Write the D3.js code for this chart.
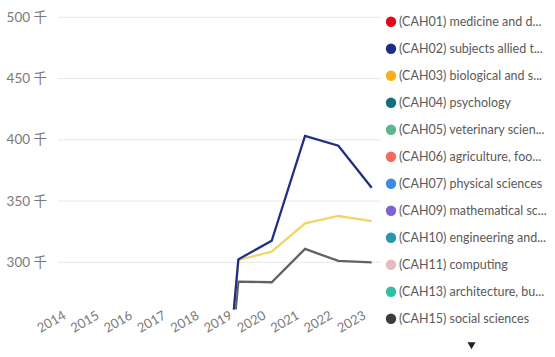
<!DOCTYPE html>
<html><head><meta charset="utf-8">
<script src="https://cdn.jsdelivr.net/npm/d3@7"></script>
<style>
html,body{margin:0;padding:0;background:#fff;}
svg{display:block;font-family:"Lato","Noto Sans CJK SC",sans-serif;}
</style></head>
<body><svg id="c" width="555" height="357"></svg>
<script>
const years = [2014, 2015, 2016, 2017, 2018, 2019, 2020, 2021, 2022, 2023];
const yTicks = [300, 350, 400, 450, 500];
// values in thousands; null = no data
const cah02 = [null, null, null, null, 0, 302.4, 317.6, 403.1, 395.2, 360.9];
const cah03 = [null, null, null, null, 0, 301.9, 308.7, 331.8, 337.8, 333.7];
const cah15 = [null, null, null, null, 0, 284.2, 283.7, 310.9, 301.1, 300.0];
const legendLabels = [
  "(CAH01) medicine and d...",
  "(CAH02) subjects allied t...",
  "(CAH03) biological and s...",
  "(CAH04) psychology",
  "(CAH05) veterinary scien...",
  "(CAH06) agriculture, foo...",
  "(CAH07) physical sciences",
  "(CAH09) mathematical sc...",
  "(CAH10) engineering and...",
  "(CAH11) computing",
  "(CAH13) architecture, bu...",
  "(CAH15) social sciences"
];
const legendColors = ["#e3061f","#1f2f86","#fbb01a","#11707a","#5cb88c","#f26b5c","#3a8fdc","#7f62d4","#2898ad","#e2bcc0","#2fbfa3","#3c3c3c"];
const lines = [
  {values: cah15, color: "#5d6466"},
  {values: cah03, color: "#f2d46c"},
  {values: cah02, color: "#1f2f86"}
];

const svg = d3.select("#c");
const x = d3.scaleLinear().domain([2014, 2023]).range([71.7, 371.7]);
const y = d3.scaleLinear().domain([300, 500]).range([262.3, 17.3]);

// gridlines + y labels
const gy = svg.append("g");
gy.selectAll("line").data(yTicks).join("line")
  .attr("x1", 58).attr("x2", 381)
  .attr("y1", d => y(d)).attr("y2", d => y(d))
  .attr("stroke", "#e8e8e8").attr("stroke-width", 1);
gy.selectAll("text").data(yTicks).join("text")
  .attr("x", 47).attr("y", d => y(d) + 4.5)
  .attr("text-anchor", "end").attr("fill", "#7a7a7a").attr("font-size", 13.5)
  .text(d => d + " 千");

// x labels
svg.append("g").selectAll("text").data(years).join("text")
  .attr("transform", d => `translate(${x(d) - 5},${318}) rotate(-30)`)
  .attr("text-anchor", "end").attr("fill", "#7a7a7a").attr("font-size", 13)
  .text(d => d);

// clip
svg.append("clipPath").attr("id", "clip").append("rect")
  .attr("x", 0).attr("y", 0).attr("width", 385).attr("height", 309.5);

const line = d3.line().defined(d => d.v !== null).x(d => x(d.yr)).y(d => y(d.v));
svg.append("g").attr("clip-path", "url(#clip)").selectAll("path").data(lines).join("path")
  .attr("d", s => line(years.map((yr, i) => ({yr, v: s.values[i]}))))
  .attr("fill", "none").attr("stroke", s => s.color).attr("stroke-width", 2.3)
  .attr("stroke-linejoin", "miter");

// legend
const lg = svg.append("g").selectAll("g").data(legendLabels).join("g")
  .attr("transform", (d, i) => `translate(391,${21.7 + i * 27.0})`);
lg.append("circle").attr("r", 5.2).attr("fill", (d, i) => legendColors[i]);
lg.append("text").attr("x", 8).attr("y", 4.6).attr("fill", "#5a5a5a").attr("font-size", 12.5)
  .text(d => d);

// scroll arrow
svg.append("path").attr("d", d3.symbol(d3.symbolTriangle, 28)())
  .attr("transform", "translate(471.5,344.5) rotate(180)").attr("fill", "#222");
</script></body></html>
